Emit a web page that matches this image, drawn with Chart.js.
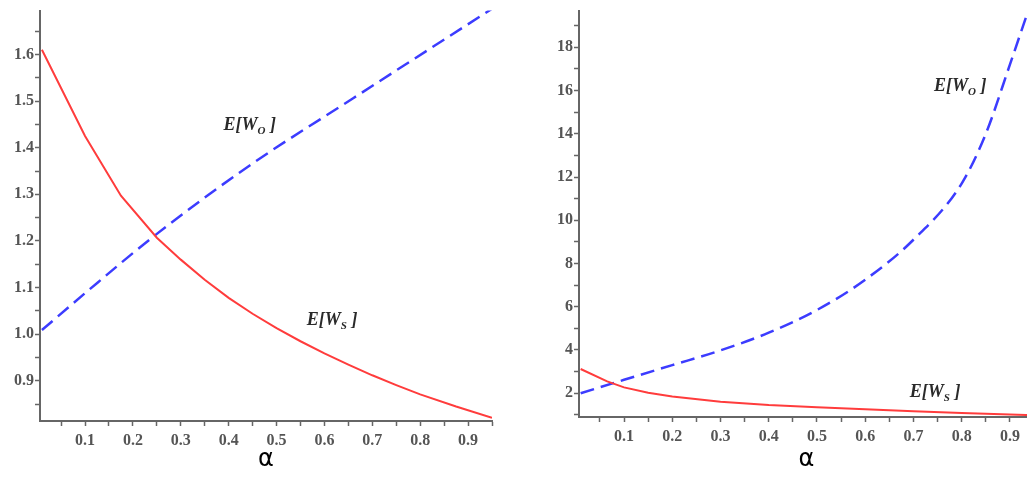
<!DOCTYPE html>
<html lang="en">
<head>
  <meta charset="UTF-8">
  <title>E[W] versus alpha</title>
  <script src="https://cdn.jsdelivr.net/npm/chart.js"></script>
  <style>
    body {
      margin: 0;
      background: #fff;
      overflow: hidden;
      width: 1027px;
      height: 480px;
      position: relative;
    }
    .box {
      position: absolute;
      top: 0;
    }
  </style>
</head>
<body>
  <div class="box" style="left:0"><canvas id="graficoA" width="520" height="480"></canvas></div>
  <div class="box" style="left:520px"><canvas id="graficoB" width="540" height="480"></canvas></div>

  <script>
    // left panel
    const alphaSA = [0.01, 0.1, 0.175, 0.25, 0.3, 0.35, 0.4, 0.45, 0.5, 0.55, 0.6, 0.65, 0.7, 0.75, 0.8, 0.875, 0.95];
    const wsA = [1.61, 1.425, 1.297, 1.207, 1.16, 1.117, 1.078, 1.044, 1.013, 0.985, 0.959, 0.935, 0.912, 0.891, 0.871, 0.845, 0.821];
    const alphaOA = [0.01, 0.1, 0.246, 0.444, 0.66, 0.95];
    const woA = [1.009, 1.088, 1.212, 1.362, 1.506, 1.698];

    // right panel
    const alphaSB = [0.01, 0.065, 0.1, 0.15, 0.2, 0.3, 0.4, 0.5, 0.6, 0.7, 0.8, 0.9, 0.95];
    const wsB = [3.12, 2.55, 2.27, 2.02, 1.85, 1.6, 1.45, 1.35, 1.26, 1.17, 1.09, 1.01, 0.98];
    const alphaOB = [0.01, 0.1, 0.2, 0.3, 0.4, 0.5, 0.6, 0.7, 0.8, 0.85, 0.9, 0.935];
    const woB = [2.0, 2.62, 3.3, 3.98, 4.8, 5.85, 7.25, 9.1, 11.7, 14.0, 17.2, 19.5];

    const xTicks = [0.1, 0.2, 0.3, 0.4, 0.5, 0.6, 0.7, 0.8, 0.9];
    const yTicksA = [0.9, 1.0, 1.1, 1.2, 1.3, 1.4, 1.5, 1.6];
    const yTicksB = [2, 4, 6, 8, 10, 12, 14, 16, 18];

    const vermelho = '#ff3c3c';
    const azul = '#3c3cff';
    const serif = '"Liberation Serif", "DejaVu Serif", serif';

    function pontos(xs, ys) {
      return xs.map((x, i) => ({ x: x, y: ys[i] }));
    }

    // every tick position (major + minor) between min and max
    function marcas(passo, min, max) {
      const lista = [];
      for (let v = passo; v <= max + 1e-9; v += passo) {
        const val = parseFloat(v.toFixed(4));
        if (val >= min) lista.push({ value: val });
      }
      return lista;
    }

    function ehMaior(maiores, v) {
      return maiores.some(m => Math.abs(m - v) < 1e-6);
    }

    // draws the E[W_x] text labels
    const rotulos = {
      id: 'rotulos',
      afterDatasetsDraw(chart, args, opts) {
        const ctx = chart.ctx;
        const sx = chart.scales.x, sy = chart.scales.y;
        const grande = 'italic bold 18px ' + serif;
        const pequeno = 'italic bold 11px ' + serif;
        ctx.save();
        ctx.fillStyle = '#2a2a2a';
        ctx.textBaseline = 'middle';
        opts.itens.forEach(it => {
          let px = sx.getPixelForValue(it.x);
          const py = sy.getPixelForValue(it.y);
          ctx.font = grande;
          const w1 = ctx.measureText('E[W').width;
          ctx.font = pequeno;
          const w2 = ctx.measureText(it.sub).width;
          ctx.font = grande;
          const w3 = ctx.measureText(' ]').width;
          px -= (w1 + w2 + w3) / 2;
          ctx.fillText('E[W', px, py);
          ctx.font = pequeno;
          ctx.fillText(it.sub, px + w1, py + 6);
          ctx.font = grande;
          ctx.fillText(' ]', px + w1 + w2, py);
        });
        ctx.restore();
      }
    };

    function criarGrafico(id, dados, cfg) {
      const ctx = document.getElementById(id).getContext('2d');
      return new Chart(ctx, {
        type: 'scatter',
        data: {
          datasets: [
            {
              label: 'E[W_S]',
              data: pontos(dados.xs, dados.ys),
              showLine: true,
              borderColor: vermelho,
              borderWidth: 2,
              pointRadius: 0,
              tension: 0
            },
            {
              label: 'E[W_O]',
              data: pontos(dados.xo, dados.yo),
              showLine: true,
              borderColor: azul,
              borderWidth: 2.5,
              borderDash: [14, 7],
              pointRadius: 0,
              cubicInterpolationMode: 'monotone'
            }
          ]
        },
        options: {
          responsive: false,
          animation: false,
          layout: { padding: { top: cfg.topo, right: cfg.direita, left: 0, bottom: 0 } },
          plugins: {
            legend: { display: false },
            tooltip: { enabled: false },
            rotulos: { itens: cfg.rotulos }
          },
          scales: {
            x: {
              type: 'linear',
              min: cfg.xmin,
              max: 0.95,
              afterFit: s => { s.height = cfg.alturaX; },
              afterBuildTicks: s => { s.ticks = marcas(0.05, cfg.xmin, 0.95); },
              border: { display: true, color: '#666', width: 2 },
              grid: { display: true, drawOnChartArea: false, drawTicks: true, tickLength: 5, tickColor: '#666', tickWidth: 1.5 },
              ticks: {
                autoSkip: false,
                maxRotation: 0,
                padding: 5,
                color: '#555',
                font: { family: serif, size: 16, weight: 'bold' },
                callback: v => ehMaior(xTicks, v) ? v.toFixed(1) : ''
              },
              title: {
                display: true,
                text: 'α',
                color: '#000',
                font: { family: '"DejaVu Sans", sans-serif', size: 24 },
                padding: { top: 0, bottom: 6 }
              }
            },
            y: {
              type: 'linear',
              min: cfg.ymin,
              max: cfg.ymax,
              afterFit: s => { s.width = cfg.larguraY; },
              afterBuildTicks: s => { s.ticks = marcas(cfg.yPasso, cfg.ymin, cfg.ymax); },
              border: { display: true, color: '#666', width: 2 },
              grid: { display: true, drawOnChartArea: false, drawTicks: true, tickLength: 5, tickColor: '#666', tickWidth: 1.5 },
              ticks: {
                autoSkip: false,
                padding: 1,
                color: '#555',
                font: { family: serif, size: 16, weight: 'bold' },
                callback: v => ehMaior(cfg.yMaiores, v) ? cfg.formato(v) : ''
              }
            }
          }
        },
        plugins: [rotulos]
      });
    }

    criarGrafico('graficoA',
      { xs: alphaSA, ys: wsA, xo: alphaOA, yo: woA },
      {
        xmin: 0.006, ymin: 0.814, ymax: 1.694,
        yMaiores: yTicksA, yPasso: 0.05, formato: v => v.toFixed(1),
        topo: 10, direita: 28, larguraY: 40, alturaX: 59,
        rotulos: [
          { x: 0.444, y: 1.448, sub: 'O' },
          { x: 0.616, y: 1.03, sub: 'S' }
        ]
      });

    criarGrafico('graficoB',
      { xs: alphaSB, ys: wsB, xo: alphaOB, yo: woB },
      {
        xmin: 0.0066, ymin: 0.9, ymax: 19.7,
        yMaiores: yTicksB, yPasso: 1, formato: v => String(v),
        topo: 5, direita: 26, larguraY: 59, alturaX: 63,
        rotulos: [
          { x: 0.797, y: 16.2, sub: 'O' },
          { x: 0.745, y: 2.05, sub: 'S' }
        ]
      });
  </script>
</body>
</html>
